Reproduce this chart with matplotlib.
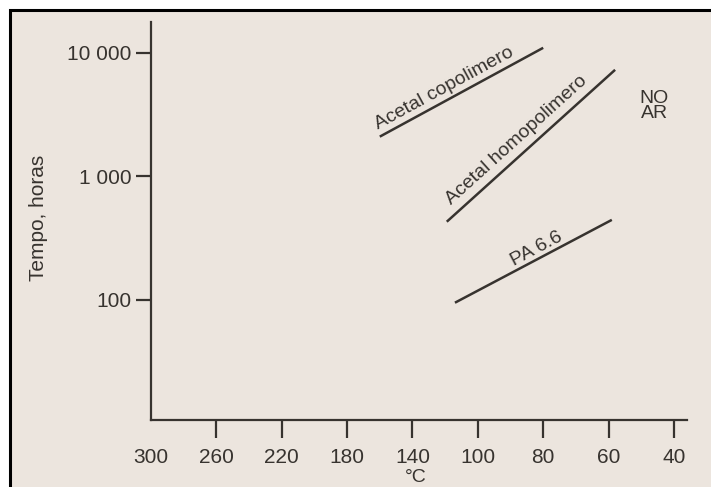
import numpy as np
import matplotlib
matplotlib.use('Agg')
import matplotlib.pyplot as plt
from matplotlib.patches import Rectangle

# temperature axis: evenly spaced labels, not a linear scale
temps = [300, 260, 220, 180, 140, 100, 80, 60, 40]
hour_ticks = [100, 1000, 10000]
hour_labels = ['100', '1 000', '10 000']

# each curve: (temperature endpoints in °C, time endpoints in hours)
copo_temp = [160, 80]
copo_hours = [2100, 11000]
homo_temp = [119, 58]
homo_hours = [430, 7300]
pa66_temp = [114, 59]
pa66_hours = [95, 445]

paper = '#ece5de'
ink = '#37332f'

plt.rcParams['font.family'] = ['Liberation Sans', 'DejaVu Sans']


def pos(t):
	"""Map temperatures onto the evenly spaced tick positions"""
	return np.interp(-np.asarray(t, float), -np.asarray(temps, float), np.arange(len(temps)))


fig = plt.figure(figsize=(7.11, 4.87), dpi=100)
fig.patch.set_facecolor('white')

# page background with black frame on the left and top
fig.patches.append(Rectangle((10 / 711, -0.05), 1.2, 1.05 - 10 / 487, transform=fig.transFigure,
	facecolor=paper, edgecolor='black', lw=2.2, zorder=-10))

ax = fig.add_axes([151 / 711, 1 - 420 / 487, 536 / 711, 398 / 487])
ax.set_facecolor('none')
ax.set_yscale('log')
ax.set_xlim(0, 8.2)
ax.set_ylim(10.67, 17800)

for s in ['top', 'right']:
	ax.spines[s].set_visible(False)
for s in ['left', 'bottom']:
	ax.spines[s].set_color(ink)
	ax.spines[s].set_linewidth(1.6)

ax.set_xticks(np.arange(len(temps)))
ax.set_xticklabels([str(t) for t in temps])
ax.xaxis.get_major_ticks()[0].tick1line.set_visible(False)
ax.set_yticks(hour_ticks)
ax.set_yticklabels(hour_labels)
ax.minorticks_off()
ax.tick_params(axis='x', direction='out', length=13, width=1.6, color=ink,
	labelsize=15, labelcolor=ink, pad=7)
ax.tick_params(axis='y', direction='out', length=11, width=1.6, color=ink,
	labelsize=15, labelcolor=ink, pad=3)

ax.set_xlabel('°C', fontsize=14, color=ink)
ax.xaxis.set_label_coords(0.494, -0.123)
fig.text(39 / 711, 1 - 218 / 487, 'Tempo, horas', rotation=90, ha='center', va='center',
	fontsize=15, color=ink)

curves = [
	(copo_temp, copo_hours, 'Acetal copolimero', 0.43, 8.6),
	(homo_temp, homo_hours, 'Acetal homopolimero', 0.47, 10),
	(pa66_temp, pa66_hours, 'PA 6.6', 0.55, 7),
]

for t, h, name, frac, off in curves:
	ax.plot(pos(t), h, color=ink, lw=1.8, solid_capstyle='butt')
	# rotate the label along the line, measured in display space
	p0 = ax.transData.transform((pos(t[0]), h[0]))
	p1 = ax.transData.transform((pos(t[1]), h[1]))
	ang = np.arctan2(p1[1] - p0[1], p1[0] - p0[0])
	xm = pos(t[0]) + frac * (pos(t[1]) - pos(t[0]))
	ym = 10 ** (np.log10(h[0]) + frac * (np.log10(h[1]) - np.log10(h[0])))
	ax.annotate(name, (xm, ym), xytext=(-off * np.sin(ang), off * np.cos(ang)),
		textcoords='offset points', rotation=np.degrees(ang), rotation_mode='anchor',
		ha='center', va='center', fontsize=14, color=ink)

ax.text(pos(46), 10 ** (4 - (106 - 53) / 123.5), 'NO\nAR', ha='center', va='center',
	fontsize=14, color=ink, linespacing=0.9)

fig.savefig('out.png', dpi=100, facecolor=fig.get_facecolor())
